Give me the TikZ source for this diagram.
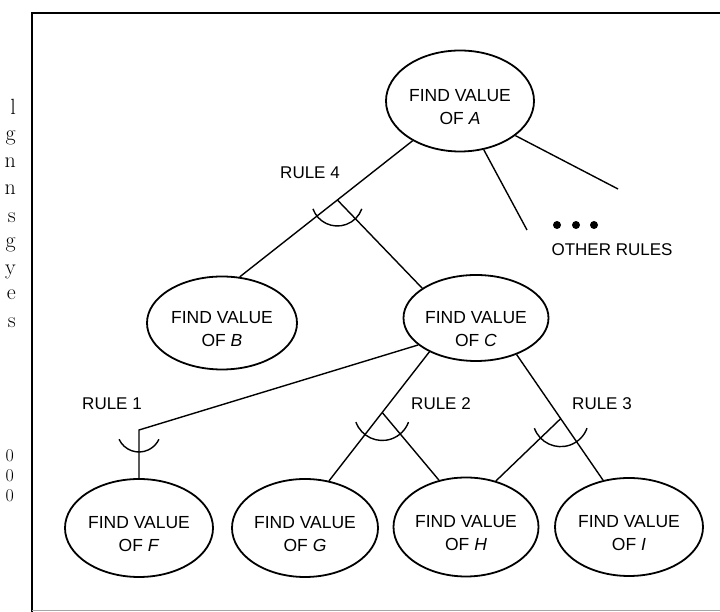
\documentclass[tikz,border=0pt]{standalone}
\usepackage{fontspec}
\setsansfont{Liberation Sans}
\usetikzlibrary{shapes.geometric,calc}
\tikzset{
  goal/.style={
    shape = ellipse,
    draw,
    line width = 1.8pt,
    inner sep = 0pt,
    minimum width = 148pt,
    minimum height = 97pt
  },
  goaltext/.style={
    align = center,
    font = \sffamily\fontsize{17.5}{23}\selectfont,
    yshift = -6pt
  },
  link/.style={
    line width = 1.4pt
  },
  rulename/.style={
    font = \sffamily\fontsize{17}{20}\selectfont
  },
  dot/.style={
    shape = circle,
    fill,
    inner sep = 0pt,
    minimum size = 8pt
  },
  margintext/.style={
    font = \rmfamily\fontsize{22}{24}\selectfont,
    anchor = base east,
    inner sep = 0pt
  },
  every picture/.style = {
    x = 1pt,
    y = 1pt
  }
}

\begin{document}
\begin{tikzpicture}
    \useasboundingbox (0,0) rectangle (720,612);
    % frame
    \draw[line width=1.6pt] (32,0) -- (32,599) -- (720,599);
    \draw[line width=0.8pt, black!35] (32,2) -- (720,2);
    % bits of the next column
    \foreach \c/\y [count=\i] in {l/497,g/471,n/444,n/417,s/389,g/364,y/337,e/312,s/284}{
            \node[margintext] (m\i) at (16,\y) {\c};
        }
    \foreach \y [count=\i] in {150,130,110}{
            \node[margintext, font=\rmfamily\fontsize{18}{20}\selectfont] (z\i) at (14,\y) {0};
        }

    % goals
    \node[goal, minimum height=101pt,
        label={[goaltext]center:{FIND VALUE\\OF \textit{A}}}] (A) at (460,511) {};
    \node[goal, minimum width=150pt, minimum height=93pt,
        label={[goaltext]center:{FIND VALUE\\OF \textit{B}}}] (B) at (222,289) {};
    \node[goal, minimum width=145pt, minimum height=86pt,
        label={[goaltext, yshift=-5pt]center:{FIND VALUE\\OF \textit{C}}}] (C) at (476,294) {};
    \node[goal, minimum height=98pt,
        label={[goaltext]center:{FIND VALUE\\OF \textit{F}}}] (F) at (139,84) {};
    \node[goal, minimum width=146pt, minimum height=98pt,
        label={[goaltext]center:{FIND VALUE\\OF \textit{G}}}] (G) at (305,84) {};
    \node[goal, minimum width=145pt, minimum height=99pt,
        label={[goaltext]center:{FIND VALUE\\OF \textit{H}}}] (H) at (466,85) {};
    \node[goal, minimum height=98pt,
        label={[goaltext]center:{FIND VALUE\\OF \textit{I}}}] (I) at (629,85) {};

    % rule 4
    \draw[link] (A.220) -- coordinate[pos=0.435] (r4) (B.69);
    \draw[link] (r4) -- (C.151);
    \draw[link] (r4) ++(200:26) arc[start angle=200, end angle=340, radius=26];
    \node[rulename] (rule4) at (310,439) {RULE 4};

    % other rules
    \coordinate (o1) at (527,382);
    \coordinate (o2) at (618,423);
    \draw[link] (A.296) -- (o1);
    \draw[link] (A.328) -- (o2);
    \foreach \x [count=\i] in {557,576,594}{
            \node[dot] (d\i) at (\x,387) {};
        }
    \node[rulename] (others) at (612,362) {OTHER RULES};

    % rule 1
    \coordinate (r1) at (139,182);
    \draw[link] (C.205) -- (r1) -- (F.north);
    \draw[link] (r1) ++(205:22) arc[start angle=205, end angle=335, radius=22];
    \node[rulename] (rule1) at (112,208) {RULE 1};

    % rule 2
    \draw[link] (C.216) -- coordinate[pos=0.47] (r2) (G.63);
    \draw[link] (r2) -- (H.120);
    \draw[link] (r2) ++(200:28) arc[start angle=200, end angle=340, radius=28];
    \node[rulename] (rule2) at (441,208) {RULE 2};

    % rule 3
    \draw[link] (C.318) -- coordinate[pos=0.51] (r3) (I.119);
    \draw[link] (r3) -- (H.57);
    \draw[link] (r3) ++(200:28) arc[start angle=200, end angle=340, radius=28];
    \node[rulename] (rule3) at (602,208) {RULE 3};
\end{tikzpicture}
\end{document}
